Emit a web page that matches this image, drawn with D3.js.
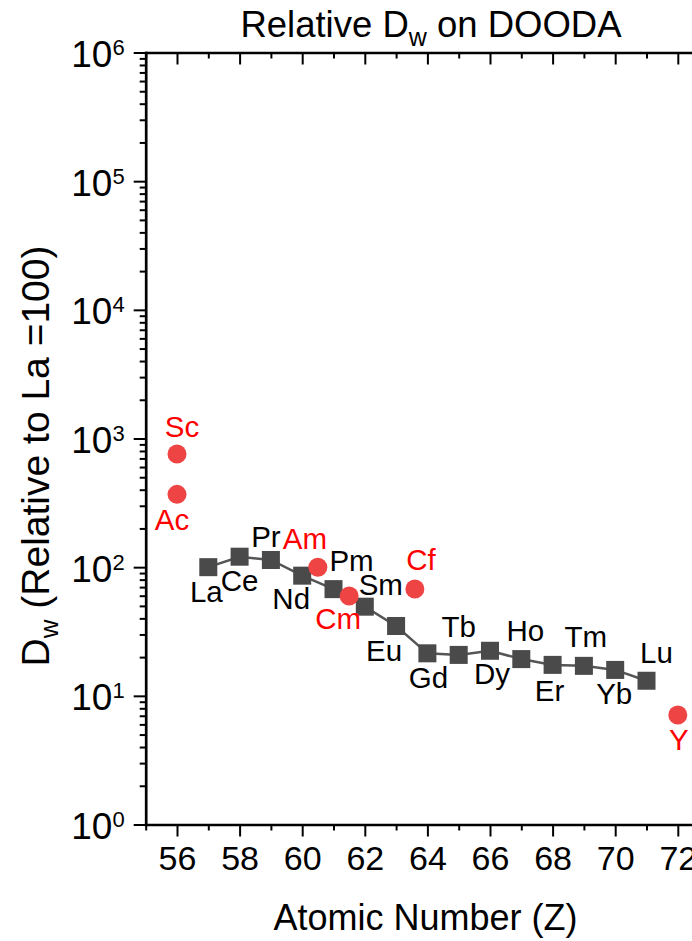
<!DOCTYPE html>
<html>
<head>
<meta charset="utf-8">
<script src="https://cdn.jsdelivr.net/npm/d3@7"></script>
<style>
  body { margin: 0; background: #fff; }
  text { font-family: Arial, "Liberation Sans", sans-serif; fill: #000; }
</style>
</head>
<body>
<div id="chart"></div>
<script>
// lanthanide series (black squares, joined by a line)
const lnNames = ["La", "Ce", "Pr", "Nd", "Pm", "Sm", "Eu", "Gd", "Tb", "Dy", "Ho", "Er", "Tm", "Yb", "Lu"];
const lnZ = [57, 58, 59, 60, 61, 62, 63, 64, 65, 66, 67, 68, 69, 70, 71];
const lnDw = [100, 120.6, 113.7, 85.9, 67.5, 49.3, 34.9, 21.4, 20.8, 22.4, 19.3, 17.4, 17.1, 15.9, 13.1];

// other elements (red circles), placed on the Z axis as in the figure
const otherNames = ["Sc", "Ac", "Am", "Cm", "Cf", "Y"];
const otherZ = [56, 56, 60.5, 61.5, 63.6, 72];
const otherDw = [757, 368, 100, 59.7, 67.6, 7.1];

// axis ticks
const xMajorTicks = [56, 58, 60, 62, 64, 66, 68, 70, 72];
const xMinorTicks = [55, 57, 59, 61, 63, 65, 67, 69, 71, 73];
const yMajorTicks = [1, 10, 100, 1000, 10000, 100000, 1000000];

// hand placed label offsets (px) from each marker: [dx, baseline dy]
const labelNudge = {
    La: [-2, 35], Ce: [0, 34], Pr: [-5, -13], Nd: [-11, 33], Pm: [18, -18],
    Sm: [16, -12], Eu: [-12, 35], Gd: [1, 35], Tb: [0, -18], Dy: [2, 33],
    Ho: [4, -18], Er: [-3, 36], Tm: [2, -19], Yb: [-1, 34], Lu: [10, -18],
    Sc: [5, -17], Ac: [-5, 36], Am: [-13, -18], Cm: [-11, 33], Cf: [6, -19], Y: [1, 35]
};

(function () {
    let width = 692,
        height = 941;
    let margin = {left: 145.7, top: 52.5, bottom: 116.5};

    let svg = d3.select("#chart")
        .append("svg")
        .attr("width", width)
        .attr("height", height);

    // x runs past the right edge of the window, as in the picture
    let x = d3.scaleLinear()
        .domain([55, 73])
        .range([margin.left, margin.left + 18 * 31.3]);

    let y = d3.scaleLog()
        .domain([1, 1e6])
        .range([height - margin.bottom, margin.top]);

    // minor log ticks 2..9 in each decade
    let yMinorTicks = [];
    for (let k = 0; k < 6; k++) {
        for (let m = 2; m <= 9; m++) yMinorTicks.push(m * Math.pow(10, k));
    }

    function styleAxis(g) {
        g.select(".domain").attr("stroke-width", 2.7).attr("stroke-linecap", "square");
        g.selectAll(".tick line").attr("stroke-width", 2);
    }

    // bottom axis
    let xAxisG = svg.append("g")
        .attr("transform", `translate(0, ${y(1)})`)
        .call(d3.axisBottom(x).tickValues(xMajorTicks).tickSize(12).tickSizeOuter(0));
    xAxisG.selectAll("text")
        .attr("dy", null)
        .attr("y", 45.5)
        .style("font-size", "34px");
    svg.append("g")
        .attr("transform", `translate(0, ${y(1)})`)
        .call(d3.axisBottom(x).tickValues(xMinorTicks).tickSize(6).tickFormat("").tickSizeOuter(0))
        .call(g => g.select(".domain").remove())
        .call(styleAxis);
    styleAxis(xAxisG);

    // top axis, ticks pointing in
    svg.append("g")
        .attr("transform", `translate(0, ${y(1e6)})`)
        .call(d3.axisTop(x).tickValues(xMajorTicks).tickSize(-12).tickFormat("").tickSizeOuter(0))
        .call(styleAxis);
    svg.append("g")
        .attr("transform", `translate(0, ${y(1e6)})`)
        .call(d3.axisTop(x).tickValues(xMinorTicks).tickSize(-6).tickFormat("").tickSizeOuter(0))
        .call(g => g.select(".domain").remove())
        .call(styleAxis);

    // left axis
    let yAxisG = svg.append("g")
        .attr("transform", `translate(${x(55)}, 0)`)
        .call(d3.axisLeft(y).tickValues(yMajorTicks).tickSize(12).tickFormat("").tickSizeOuter(0))
        .call(styleAxis);
    svg.append("g")
        .attr("transform", `translate(${x(55)}, 0)`)
        .call(d3.axisLeft(y).tickValues(yMinorTicks).tickSize(6).tickFormat("").tickSizeOuter(0))
        .call(g => g.select(".domain").remove())
        .call(styleAxis);

    // 10^n labels with superscript
    yAxisG.selectAll(".tick").each(function (d) {
        let t = d3.select(this).append("text")
            .attr("x", -21)
            .attr("y", 14)
            .attr("text-anchor", "end")
            .style("font-size", "37px");
        t.append("tspan").text("10");
        t.append("tspan")
            .attr("dy", -12)
            .style("font-size", "22px")
            .text(Math.round(Math.log10(d)));
    });

    // title
    let title = svg.append("text")
        .attr("x", 431)
        .attr("y", 37)
        .attr("text-anchor", "middle")
        .style("font-size", "36.5px");
    title.append("tspan").text("Relative D");
    title.append("tspan").attr("dy", 9).style("font-size", "25px").text("w");
    title.append("tspan").attr("dy", -9).text(" on DOODA");

    // x-axis title
    svg.append("text")
        .attr("x", 425.5)
        .attr("y", 930)
        .attr("text-anchor", "middle")
        .style("font-size", "36px")
        .text("Atomic Number (Z)");

    // y-axis title
    let yTitle = svg.append("text")
        .attr("transform", "translate(49, 456) rotate(-90)")
        .attr("text-anchor", "middle")
        .style("font-size", "39px");
    yTitle.append("tspan").text("D");
    yTitle.append("tspan").attr("dy", 9).style("font-size", "26px").text("w");
    yTitle.append("tspan").attr("dy", -9).text(" (Relative to La =100)");

    // data
    let lnData = lnNames.map((n, i) => ({name: n, z: lnZ[i], dw: lnDw[i]}));
    let otherData = otherNames.map((n, i) => ({name: n, z: otherZ[i], dw: otherDw[i]}));

    svg.append("path")
        .datum(lnData)
        .attr("fill", "none")
        .attr("stroke", "#555555")
        .attr("stroke-width", 2.5)
        .attr("d", d3.line().x(d => x(d.z)).y(d => y(d.dw)));

    svg.selectAll("rect.ln")
        .data(lnData)
        .enter()
        .append("rect")
        .attr("class", "ln")
        .attr("x", d => x(d.z) - 9)
        .attr("y", d => y(d.dw) - 9)
        .attr("width", 18)
        .attr("height", 18)
        .attr("fill", "#4a4a4a");

    svg.selectAll("circle.other")
        .data(otherData)
        .enter()
        .append("circle")
        .attr("class", "other")
        .attr("cx", d => x(d.z))
        .attr("cy", d => y(d.dw))
        .attr("r", 9.5)
        .attr("fill", "#ef4444");

    // element labels
    function addLabels(data, colour) {
        svg.append("g").selectAll("text")
            .data(data)
            .enter()
            .append("text")
            .attr("x", d => x(d.z) + labelNudge[d.name][0])
            .attr("y", d => y(d.dw) + labelNudge[d.name][1])
            .attr("text-anchor", "middle")
            .style("font-size", "29.5px")
            .style("fill", colour)
            .text(d => d.name);
    }
    addLabels(lnData, "#000");
    addLabels(otherData, "#ff0000");
})();
</script>
</body>
</html>
